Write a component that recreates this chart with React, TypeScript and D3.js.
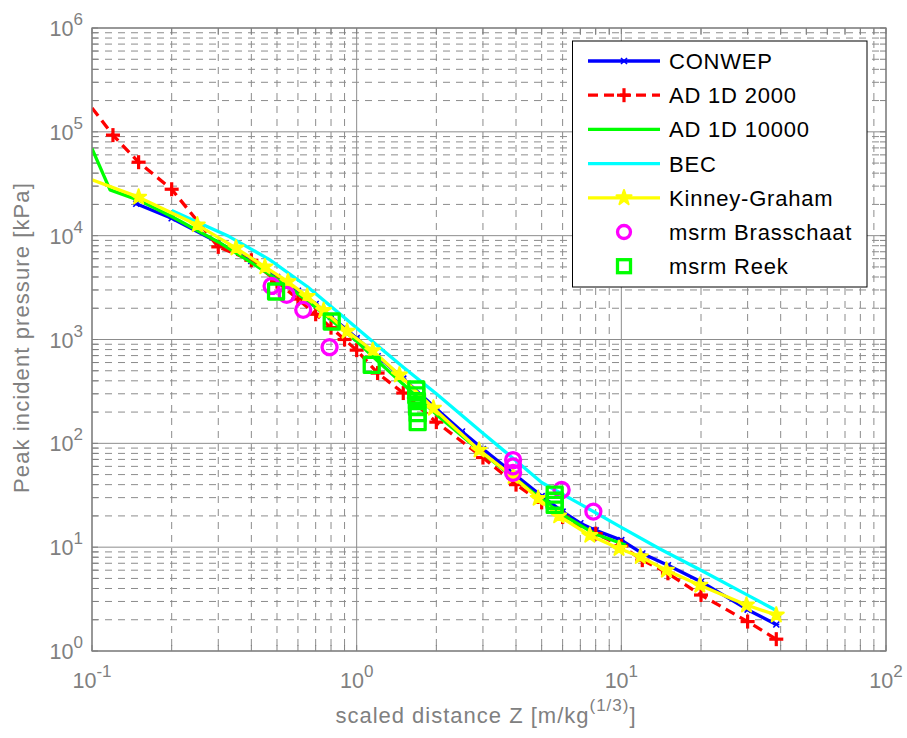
import React from 'react';
import * as d3 from 'd3';

// ---------- data ----------
const conwepZ = [0.147, 0.2, 0.3, 0.4, 0.5, 0.6, 0.7, 0.8, 0.9, 1.0, 1.2, 1.5, 2, 2.5, 3, 4, 5, 6, 7, 8, 10, 12, 15, 20, 30, 38.5];
const conwepP = [20300, 14700, 8600, 5700, 4000, 2950, 2200, 1650, 1300, 1030, 690, 420, 215, 130, 88, 49, 31, 22, 17, 14.5, 11.7, 8.7, 6.7, 4.65, 2.5, 1.8];

const ad2000Z = [0.1, 0.12, 0.15, 0.2, 0.3, 0.4, 0.5, 0.6, 0.7, 0.8, 0.9, 1.0, 1.2, 1.5, 2, 3, 4, 5, 6, 8, 10, 12, 15, 20, 30, 38.5];
const ad2000P = [170000, 93000, 51000, 28000, 7800, 5800, 3600, 2450, 1750, 1300, 1000, 790, 475, 305, 160, 73, 40, 27, 19.5, 13.5, 10.3, 7.5, 5.6, 3.46, 1.92, 1.3];

const ad10000Z = [0.1, 0.117, 0.15, 0.2, 0.3, 0.4, 0.5, 0.6, 0.7, 0.8, 1.0, 1.2, 1.5, 2, 3, 4, 5, 6, 8, 10.4];
const ad10000P = [69000, 27600, 22000, 15300, 8700, 5500, 3800, 2750, 2050, 1550, 960, 620, 370, 190, 80, 45, 29, 20.5, 13.3, 10.5];

const becZ = [0.2, 0.33, 0.47, 0.65, 0.9, 1.2, 1.5, 2, 3, 4, 5, 7, 10, 14, 20, 30, 38.2];
const becP = [17500, 9800, 5850, 3240, 1620, 870, 540, 300, 125, 68, 42, 26, 15.5, 9.6, 6.0, 3.45, 2.48];

const kinneyZ = [0.1, 0.15, 0.25, 0.35, 0.45, 0.55, 0.65, 0.75, 0.92, 1.15, 1.45, 1.95, 2.9, 3.9, 4.85, 5.8, 7.6, 9.8, 11.8, 14.8, 19.8, 29.7, 38.5];
const kinneyP = [34500, 23500, 12700, 7600, 5000, 3600, 2600, 1900, 1200, 780, 455, 218, 86, 48, 29.5, 20, 13, 9.7, 8.1, 6.0, 4.3, 2.77, 2.22];

const brassZ = [0.477, 0.544, 0.628, 0.79, 3.9, 3.9, 3.9, 5.95, 7.84];
const brassP = [3280, 2690, 1930, 843, 69, 60, 52, 35.6, 22];

const reekZ = [0.496, 0.805, 1.14, 1.68, 1.68, 1.69, 1.69, 1.7, 1.7, 5.6, 5.6, 5.6];
const reekP = [2900, 1490, 569, 330, 290, 255, 225, 195, 160, 32, 28, 25.5];

const xDecades = [-1, 0, 1, 2];
const yDecades = [0, 1, 2, 3, 4, 5, 6];
const legendLabels = ['CONWEP', 'AD 1D 2000', 'AD 1D 10000', 'BEC', 'Kinney-Graham', 'msrm Brasschaat', 'msrm Reek'];

// ---------- component ----------
const GRAY = '#808080';
const FONT = 'Liberation Sans, Arial, Helvetica, sans-serif';
const LW = 3.3;

function XMark({ cx, cy, s, color, w }: any) {
  return (
    <g stroke={color} strokeWidth={w}>
      <line x1={cx - s} y1={cy - s} x2={cx + s} y2={cy + s} />
      <line x1={cx - s} y1={cy + s} x2={cx + s} y2={cy - s} />
      <line x1={cx - s} y1={cy} x2={cx + s} y2={cy} />
    </g>
  );
}
function Plus({ cx, cy, s, color, w }: any) {
  return (
    <g stroke={color} strokeWidth={w}>
      <line x1={cx - s} y1={cy} x2={cx + s} y2={cy} />
      <line x1={cx} y1={cy - s} x2={cx} y2={cy + s} />
    </g>
  );
}
const starPath = d3.symbol().type(d3.symbolStar).size(70)() as string;
function Star({ cx, cy }: any) {
  return <path d={starPath} transform={`translate(${cx},${cy})`} fill="#ffff00" stroke="#ffff00" strokeWidth={2} strokeLinejoin="round" />;
}

export default function App() {
  const W = 907, H = 738;
  const L = 92, R = 886, T = 28, B = 651;
  const x = d3.scaleLog().domain([0.1, 100]).range([L, R]);
  const y = d3.scaleLog().domain([1, 1e6]).range([B, T]);
  const line = (zs: number[], ps: number[]) =>
    d3.line<number>().x((_, i) => x(zs[i])).y((_, i) => y(ps[i]))(zs) as string;

  const minorX: number[] = [];
  xDecades.slice(0, -1).forEach(e => { for (let k = 2; k <= 9; k++) minorX.push(k * Math.pow(10, e)); });
  const minorY: number[] = [];
  yDecades.slice(0, -1).forEach(e => { for (let k = 2; k <= 9; k++) minorY.push(k * Math.pow(10, e)); });
  const majorX = xDecades.map(e => Math.pow(10, e));
  const majorY = yDecades.map(e => Math.pow(10, e));
  const tl = 6;

  const legX1 = 588, legX2 = 660, legM = 624, legT = 669;
  const legRows = legendLabels.map((_, i) => 61 + i * 34.2);

  return (
    <svg width={W} height={H} style={{ position: 'absolute', left: 0, top: 0, background: '#fff' }} fontFamily={FONT}>
      <defs>
        <clipPath id="plot"><rect x={L} y={T} width={R - L} height={B - T} /></clipPath>
      </defs>
      <rect x={0} y={0} width={W} height={H} fill="#fff" />
      <rect x={L} y={T} width={R - L} height={B - T} fill="#fff" />
      {/* grid */}
      <g stroke="#8c8c8c" strokeWidth={1}>
        {minorX.map(v => <line key={'gx' + v} x1={x(v)} x2={x(v)} y1={T} y2={B} strokeDasharray="7,6" />)}
        {minorY.map(v => <line key={'gy' + v} x1={L} x2={R} y1={y(v)} y2={y(v)} strokeDasharray="7,6" />)}
        {majorX.map(v => <line key={'mx' + v} x1={x(v)} x2={x(v)} y1={T} y2={B} />)}
        {majorY.map(v => <line key={'my' + v} x1={L} x2={R} y1={y(v)} y2={y(v)} />)}
      </g>
      {/* ticks */}
      <g stroke={GRAY} strokeWidth={1}>
        {[...minorX, ...majorX].map(v => (
          <g key={'tx' + v}>
            <line x1={x(v)} x2={x(v)} y1={B} y2={B - tl} />
            <line x1={x(v)} x2={x(v)} y1={T} y2={T + tl} />
          </g>
        ))}
        {[...minorY, ...majorY].map(v => (
          <g key={'ty' + v}>
            <line x1={L} x2={L + tl} y1={y(v)} y2={y(v)} />
            <line x1={R} x2={R - tl} y1={y(v)} y2={y(v)} />
          </g>
        ))}
      </g>
      {/* series */}
      <g clipPath="url(#plot)" fill="none" strokeLinejoin="round">
        <path d={line(conwepZ, conwepP)} stroke="#0000ff" strokeWidth={LW} />
        {conwepZ.map((z, i) => <XMark key={'c' + i} cx={x(z)} cy={y(conwepP[i])} s={3} color="#0000ff" w={1.6} />)}
        <path d={line(ad2000Z, ad2000P)} stroke="#ff0000" strokeWidth={LW} strokeDasharray="10,6" />
        {ad2000Z.slice(1).map((z, i) => <Plus key={'a' + i} cx={x(z)} cy={y(ad2000P[i + 1])} s={7} color="#ff0000" w={3.2} />)}
        <path d={line(ad10000Z, ad10000P)} stroke="#00ff00" strokeWidth={LW} />
        <path d={line(becZ, becP)} stroke="#00ffff" strokeWidth={LW} />
        <path d={line(kinneyZ, kinneyP)} stroke="#ffff00" strokeWidth={LW} />
        {kinneyZ.slice(1).map((z, i) => <Star key={'k' + i} cx={x(z)} cy={y(kinneyP[i + 1])} />)}
        {brassZ.map((z, i) => <circle key={'b' + i} cx={x(z)} cy={y(brassP[i])} r={7.5} stroke="#ff00ff" strokeWidth={3.3} fill="none" />)}
        {reekZ.map((z, i) => <rect key={'r' + i} x={x(z) - 7.5} y={y(reekP[i]) - 7.5} width={15} height={15} stroke="#00ff00" strokeWidth={3.3} fill="none" />)}
      </g>
      {/* axes box */}
      <rect x={L} y={T} width={R - L} height={B - T} fill="none" stroke={GRAY} strokeWidth={1.3} />
      {/* tick labels */}
      <g fill={GRAY}>
        {yDecades.map(e => (
          <text key={'yl' + e} x={83} y={y(Math.pow(10, e)) + 8} textAnchor="end" fontSize={21.5}>
            10<tspan dy={-11} fontSize={17}>{String(e)}</tspan>
          </text>
        ))}
        {xDecades.map(e => (
          <text key={'xl' + e} x={x(Math.pow(10, e))} y={688} textAnchor="middle" fontSize={21.5}>
            10<tspan dy={-11} fontSize={17}>{e < 0 ? '-' + Math.abs(e) : String(e)}</tspan>
          </text>
        ))}
        <text x={(L + R) / 2 - 3} y={723} textAnchor="middle" fontSize={22} letterSpacing={1}>
          scaled distance Z [m/kg<tspan dy={-12} fontSize={17}>(1/3)</tspan><tspan dy={12}>]</tspan>
        </text>
        <text transform={`translate(29,${(T + B) / 2 - 2}) rotate(-90)`} textAnchor="middle" fontSize={22} letterSpacing={1.1}>
          Peak incident pressure [kPa]
        </text>
      </g>
      {/* legend */}
      <g>
        <rect x={572.5} y={41} width={294.5} height={246} fill="#fff" stroke="#000" strokeWidth={1} />
        <line x1={legX1} x2={legX2} y1={legRows[0]} y2={legRows[0]} stroke="#0000ff" strokeWidth={LW} />
        <XMark cx={legM} cy={legRows[0]} s={3} color="#0000ff" w={1.6} />
        <line x1={legX1} x2={legX2} y1={legRows[1]} y2={legRows[1]} stroke="#ff0000" strokeWidth={LW} strokeDasharray="10,6" />
        <Plus cx={legM} cy={legRows[1]} s={7} color="#ff0000" w={3.2} />
        <line x1={legX1} x2={legX2} y1={legRows[2]} y2={legRows[2]} stroke="#00ff00" strokeWidth={LW} />
        <line x1={legX1} x2={legX2} y1={legRows[3]} y2={legRows[3]} stroke="#00ffff" strokeWidth={LW} />
        <line x1={legX1} x2={legX2} y1={legRows[4]} y2={legRows[4]} stroke="#ffff00" strokeWidth={LW} />
        <Star cx={legM} cy={legRows[4]} />
        <circle cx={legM} cy={legRows[5]} r={6.5} stroke="#ff00ff" strokeWidth={3.3} fill="none" />
        <rect x={legM - 6.5} y={legRows[6] - 6.5} width={13} height={13} stroke="#00ff00" strokeWidth={3.3} fill="none" />
        {legendLabels.map((t, i) => (
          <text key={t} x={legT} y={legRows[i] + 8} fontSize={22} letterSpacing={0.8} fill="#000">{t}</text>
        ))}
      </g>
    </svg>
  );
}
